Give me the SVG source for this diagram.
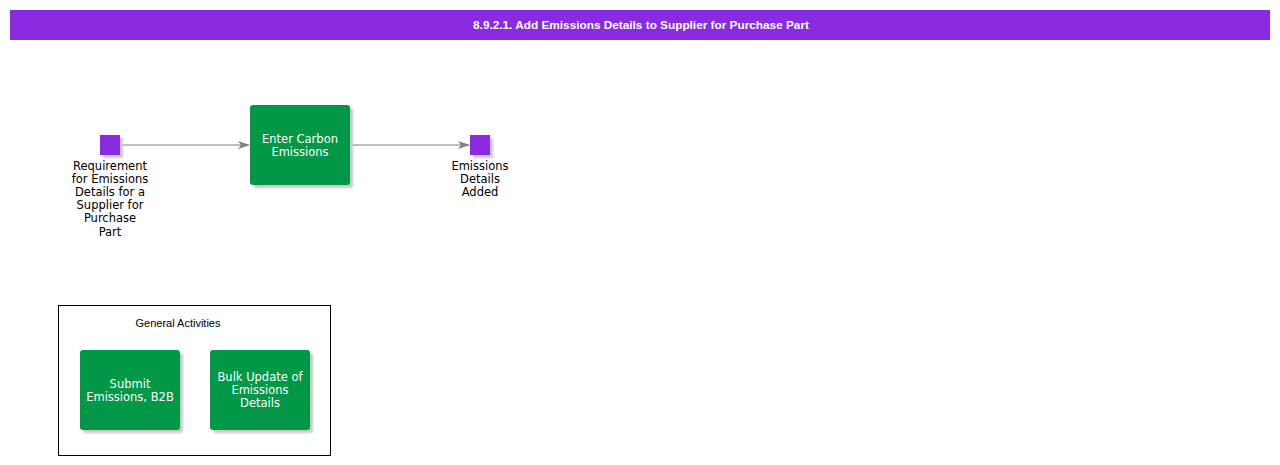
<svg xmlns="http://www.w3.org/2000/svg" width="1280" height="465" viewBox="0 0 1280 465">
<style>
.lbl{font-family:"DejaVu Sans",Verdana,sans-serif;font-size:11.5px;fill:#000;text-anchor:middle}
.wl{font-family:"DejaVu Sans",Verdana,sans-serif;font-size:11.5px;fill:#fff;text-anchor:middle}
.act{fill:#009846}
.shadow{fill:#c8c8c8}
.ev{fill:#8a2be2}
.conn{stroke:#808080;stroke-width:1;fill:none}
</style>
<defs>
<marker id="arr" markerWidth="12" markerHeight="8" refX="11" refY="4" orient="auto" markerUnits="userSpaceOnUse">
<path d="M0,0 L12,4 L0,8 L3,4 Z" fill="#808080"/>
</marker>
<filter id="blur" x="-10%" y="-10%" width="130%" height="130%"><feGaussianBlur stdDeviation="1"/></filter>
</defs>
<rect width="1280" height="465" fill="#fff"/>
<g id="title">
<rect x="10" y="10" width="1260" height="30" fill="#8a2be2"/>
<text x="641" y="29" font-family="'Liberation Sans',Arial,sans-serif" font-size="11.8" font-weight="bold" fill="#fff" text-anchor="middle">8.9.2.1. Add Emissions Details to Supplier for Purchase Part</text>
</g>
<g id="connectors">
<line class="conn" x1="120" y1="145" x2="249" y2="145" marker-end="url(#arr)"/>
<line class="conn" x1="350" y1="145" x2="469" y2="145" marker-end="url(#arr)"/>
</g>
<g id="start">
<rect class="shadow" x="103" y="138" width="20" height="20" filter="url(#blur)"/>
<rect class="ev" x="100" y="135" width="20" height="20"/>
<text class="lbl" x="110" y="170">Requirement</text>
<text class="lbl" x="110" y="183">for Emissions</text>
<text class="lbl" x="110" y="196">Details for a</text>
<text class="lbl" x="110" y="209">Supplier for</text>
<text class="lbl" x="110" y="222">Purchase</text>
<text class="lbl" x="110" y="236">Part</text>
</g>
<g id="enter">
<rect class="shadow" x="253" y="108" width="100" height="80" rx="3" filter="url(#blur)"/>
<rect class="act" x="250" y="105" width="100" height="80" rx="3"/>
<text class="wl" x="300" y="143">Enter Carbon</text>
<text class="wl" x="300" y="156">Emissions</text>
</g>
<g id="end">
<rect class="shadow" x="473" y="138" width="20" height="20" filter="url(#blur)"/>
<rect class="ev" x="470" y="135" width="20" height="20"/>
<text class="lbl" x="480" y="170">Emissions</text>
<text class="lbl" x="480" y="183">Details</text>
<text class="lbl" x="480" y="196">Added</text>
</g>
<g id="general">
<rect x="58.5" y="305.5" width="272" height="150" fill="none" stroke="#000" stroke-width="1"/>
<text x="178" y="327" font-family="'Liberation Sans',Arial,sans-serif" font-size="11" fill="#000" text-anchor="middle">General Activities</text>
</g>
<g id="submit">
<rect class="shadow" x="83" y="353" width="100" height="80" rx="3" filter="url(#blur)"/>
<rect class="act" x="80" y="350" width="100" height="80" rx="3"/>
<text class="wl" x="130" y="388">Submit</text>
<text class="wl" x="130" y="401">Emissions, B2B</text>
</g>
<g id="bulk">
<rect class="shadow" x="213" y="353" width="100" height="80" rx="3" filter="url(#blur)"/>
<rect class="act" x="210" y="350" width="100" height="80" rx="3"/>
<text class="wl" x="260" y="381">Bulk Update of</text>
<text class="wl" x="260" y="394">Emissions</text>
<text class="wl" x="260" y="407">Details</text>
</g>
</svg>
